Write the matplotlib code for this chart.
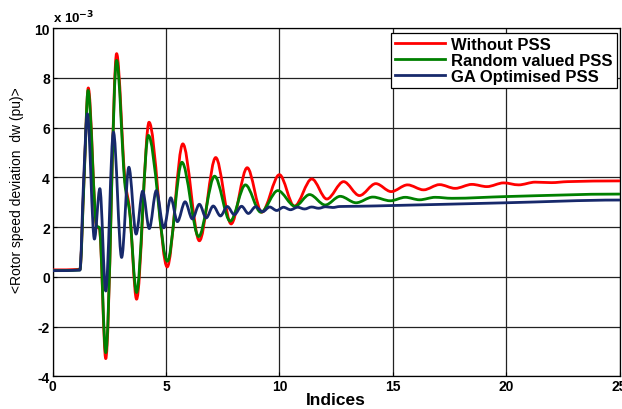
#!/usr/bin/env python3
"""Rotor speed deviation for three PSS settings, drawn as smooth curves through turning points."""

import numpy as np
import matplotlib
matplotlib.use("Agg")
import matplotlib.pyplot as plt
from matplotlib.path import Path
from matplotlib.patches import PathPatch
from matplotlib.lines import Line2D

plt.rcParams["font.family"] = ["Liberation Sans", "DejaVu Sans"]
plt.rcParams["axes.unicode_minus"] = False

# turning points of each response (index, dw in units of 1e-3 pu)
red_x = [0, 1.2, 1.38, 1.57, 1.94, 2.06, 2.34, 2.82, 3.2, 3.38, 3.70, 4.25, 5.05,
         5.74, 6.47, 7.19, 7.87, 8.58, 9.22, 10.0, 10.66, 11.43, 12.09, 12.83,
         13.53, 14.25, 14.93, 15.65, 16.36, 17.06, 17.75, 18.49, 19.15, 19.89,
         20.55, 21.28, 22.0, 22.7, 25.0]
red_y = [0.28, 0.30, 3.9, 7.6, 2.0, 1.95, -3.29, 8.98, 3.8, 2.8, -0.9, 6.22, 0.40,
         5.35, 1.45, 4.80, 2.13, 4.39, 2.60, 4.11, 2.84, 3.94, 3.13, 3.83,
         3.27, 3.75, 3.43, 3.70, 3.50, 3.71, 3.56, 3.72, 3.63, 3.78,
         3.70, 3.81, 3.79, 3.83, 3.86]

green_x = [0, 1.2, 1.38, 1.56, 1.94, 2.06, 2.34, 2.82, 3.2, 3.38, 3.70, 4.22, 5.06,
           5.70, 6.44, 7.14, 7.83, 8.50, 9.18, 9.93, 10.69, 11.33, 12.02, 12.68,
           13.38, 14.12, 14.89, 15.55, 16.18, 16.87, 17.6, 20.0, 25.0]
green_y = [0.25, 0.28, 3.8, 7.5, 2.05, 1.98, -3.05, 8.71, 3.6, 2.7, -0.63, 5.69, 0.63,
           4.61, 1.62, 4.05, 2.24, 3.70, 2.60, 3.47, 2.84, 3.31, 2.89, 3.24,
           2.98, 3.21, 3.06, 3.20, 3.10, 3.20, 3.16, 3.23, 3.33]

blue_x = [0, 1.2, 1.36, 1.53, 1.84, 2.08, 2.34, 2.68, 3.04, 3.36, 3.68, 3.97, 4.26,
          4.57, 4.90, 5.21, 5.50, 5.84, 6.16, 6.47, 6.77, 7.08, 7.40, 7.70, 8.01,
          8.33, 8.63, 8.95, 9.26, 9.57, 9.88, 10.18, 10.49, 10.80, 11.11, 11.42,
          11.73, 12.04, 12.35, 12.66, 13.5, 15.0, 20.0, 25.0]
blue_y = [0.25, 0.27, 3.8, 6.56, 1.52, 3.55, -0.57, 5.82, 0.78, 4.41, 1.72, 3.45, 1.94,
          3.47, 1.97, 3.18, 2.22, 3.02, 2.33, 2.92, 2.37, 2.85, 2.45, 2.83, 2.50,
          2.84, 2.55, 2.82, 2.62, 2.81, 2.67, 2.80, 2.70, 2.80, 2.73, 2.81,
          2.76, 2.82, 2.79, 2.83, 2.84, 2.87, 2.98, 3.09]

labels = ["Without PSS", "Random valued PSS", "GA Optimised PSS"]
colors = ["#ff0000", "#008000", "#17296b"]


def smooth_path(x, y):
    """Cubic Bezier path through the points, flat at turning points (Fritsch-Carlson slopes)."""
    x = np.asarray(x, float)
    y = np.asarray(y, float)
    h = np.diff(x)
    d = np.diff(y) / h
    m = np.zeros_like(y)
    for i in range(1, len(y) - 1):
        if d[i - 1] * d[i] > 0:
            w1 = 2 * h[i] + h[i - 1]
            w2 = h[i] + 2 * h[i - 1]
            m[i] = (w1 + w2) / (w1 / d[i - 1] + w2 / d[i])
    verts = [(x[0], y[0])]
    codes = [Path.MOVETO]
    for i in range(len(h)):
        verts += [(x[i] + h[i] / 3, y[i] + m[i] * h[i] / 3),
                  (x[i + 1] - h[i] / 3, y[i + 1] - m[i + 1] * h[i] / 3),
                  (x[i + 1], y[i + 1])]
        codes += [Path.CURVE4] * 3
    return Path(verts, codes)


fig = plt.figure(figsize=(6.22, 4.10), dpi=100)
ax = fig.add_axes([0.0847, 0.0798, 0.9113, 0.8488])
ax.set_xlim(0, 25)
ax.set_ylim(-4, 10)
ax.set_xticks(range(0, 26, 5))
ax.set_yticks(range(-4, 11, 2))
ax.grid(True, color="#222222", lw=0.9)
ax.set_axisbelow(True)
ax.tick_params(direction="in", length=3, labelsize=10, pad=2)
for lab in ax.get_xticklabels() + ax.get_yticklabels():
    lab.set_fontweight("bold")
for sp in ax.spines.values():
    sp.set_color("black")
    sp.set_linewidth(0.9)

for xs, ys, c in [(red_x, red_y, colors[0]), (green_x, green_y, colors[1]),
                  (blue_x, blue_y, colors[2])]:
    ax.add_patch(PathPatch(smooth_path(xs, ys), fill=False, edgecolor=c,
                           lw=2.0, joinstyle="round", capstyle="round", zorder=3))

ax.text(0.0, 1.008, r"x 10$^{\mathbf{-3}}$", transform=ax.transAxes,
        fontsize=9.5, fontweight="bold", ha="left", va="bottom")
ax.set_xlabel("Indices", fontsize=12.5, fontweight="bold", labelpad=-1)
ax.set_ylabel("<Rotor speed deviation  dw (pu)>", fontsize=10)
ax.yaxis.set_label_coords(-0.05, 0.538)

handles = [Line2D([], [], color=c, lw=2) for c in colors]
leg = ax.legend(handles, labels, loc="upper right", bbox_to_anchor=(0.9956, 0.9865),
                borderaxespad=0, fancybox=False, framealpha=1, edgecolor="black",
                handlelength=3.0, handletextpad=0.4, labelspacing=0.05,
                borderpad=0.25, prop={"weight": "bold", "size": 12})
leg.get_frame().set_linewidth(0.9)

fig.savefig("out.png", dpi=100)
